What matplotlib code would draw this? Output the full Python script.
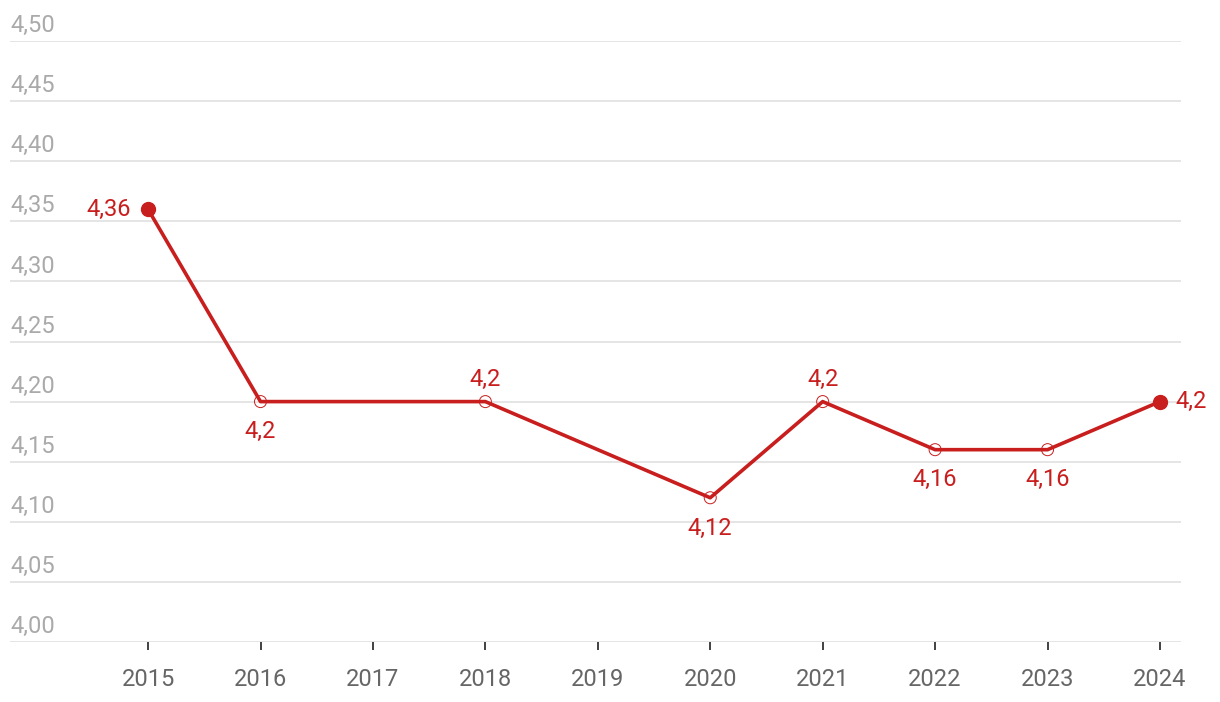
import numpy as np
import matplotlib.pyplot as plt

plt.rcParams['font.family'] = ['Roboto', 'DejaVu Sans']

years = [2015, 2016, 2018, 2020, 2021, 2022, 2023, 2024]
values = [4.36, 4.20, 4.20, 4.12, 4.20, 4.16, 4.16, 4.20]
labels = ['4,36', '4,2', '4,2', '4,12', '4,2', '4,16', '4,16', '4,2']
label_pos = ['left', 'below', 'above', 'below', 'above', 'below', 'below', 'right']
all_years = list(range(2015, 2025))
yticks = np.arange(4.00, 4.501, 0.05)

red = '#c81e1e'
fs = 17

fig = plt.figure(figsize=(12.2, 7.02), dpi=100)
ax = fig.add_axes([10/1220, 60/702, 1171/1220, 601/702])

ax.plot(years, values, color=red, lw=2.6, zorder=3)
# hollow middle markers, filled ends
ax.scatter(years[1:-1], values[1:-1], s=75, facecolor='none', edgecolor=red, linewidth=0.7, zorder=4)
ax.scatter([years[0], years[-1]], [values[0], values[-1]], s=100, color=red, zorder=5)

for x, y, t, p in zip(years, values, labels, label_pos):
    if p == 'left':
        ax.annotate(t, (x, y), xytext=(-12, 0), textcoords='offset points', ha='right', va='center', color=red, fontsize=fs)
    elif p == 'right':
        ax.annotate(t, (x, y), xytext=(11, 0), textcoords='offset points', ha='left', va='center', color=red, fontsize=fs)
    elif p == 'above':
        ax.annotate(t, (x, y), xytext=(0, 7.5), textcoords='offset points', ha='center', va='bottom', color=red, fontsize=fs)
    else:
        ax.annotate(t, (x, y), xytext=(0, -13.5), textcoords='offset points', ha='center', va='top', color=red, fontsize=fs)

ax.set_xlim(2013.772, 2024.187)
ax.set_ylim(4.00, 4.50)

for v in yticks:
    ax.axhline(v, color='#e3e3e3', lw=1.3, zorder=1)
    ax.text(0, v + 0.0032, f'{v:.2f}'.replace('.', ','), transform=ax.get_yaxis_transform(),
            ha='left', va='bottom', color='#aaaaaa', fontsize=fs)

ax.set_yticks([])
ax.set_xticks(all_years)
ax.set_xticklabels([str(y) for y in all_years], color='#666666', fontsize=fs)
ax.tick_params(axis='x', length=6, width=1.3, color='#333333', pad=12.5)
for s in ax.spines.values():
    s.set_visible(False)

fig.savefig('out.png', dpi=100)
